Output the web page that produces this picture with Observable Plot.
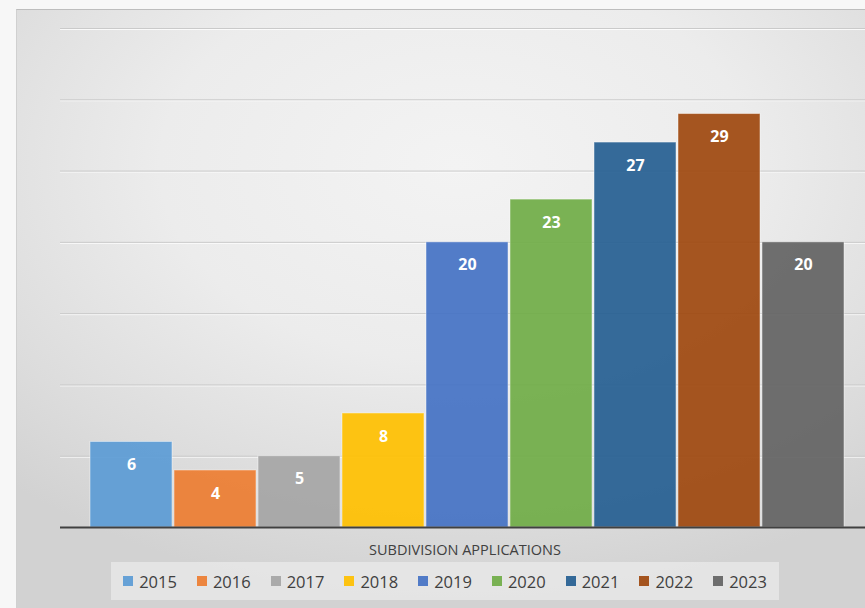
<!DOCTYPE html>
<html>
<head>
<meta charset="utf-8">
<script src="https://cdn.jsdelivr.net/npm/d3@7"></script>
<script src="https://cdn.jsdelivr.net/npm/@observablehq/plot@0.6"></script>
<style>
  html, body { margin: 0; padding: 0; overflow: hidden; width: 865px; height: 608px; background: #f7f7f7; }
  #panel {
    position: absolute; left: 16px; top: 9px; width: 880px; height: 620px;
    border-top: 1px solid #bdbdbd; border-left: 1px solid #d0d0d0;
    background: radial-gradient(ellipse 75% 70% at 50% 25%, #f3f3f3 0%, #ececec 45%, #dcdcdc 80%, #d2d2d2 100%);
  }
  #chart { position: absolute; left: 0; top: 0; }
  #title {
    position: absolute; left: 0; width: 930px; top: 540px; text-align: center;
    font-family: "Open Sans", "Noto Sans", sans-serif; font-size: 14.5px; color: #404040;
  }
  #legend {
    position: absolute; left: 111px; top: 562px; width: 668px; height: 38px;
    background: rgba(232,232,232,0.85);
    display: flex; align-items: center; justify-content: center; gap: 20px;
    font-family: "Open Sans", "Noto Sans", sans-serif; font-size: 16.5px; color: #404040;
  }
  .item { display: flex; align-items: center; gap: 6px; }
  .sw { width: 10px; height: 10px; display: inline-block; }
</style>
</head>
<body>
<div id="panel"></div>
<div id="chart"></div>
<div id="title">SUBDIVISION APPLICATIONS</div>
<div id="legend"></div>
<script>
const years = ["2015","2016","2017","2018","2019","2020","2021","2022","2023"];
const values = [6, 4, 5, 8, 20, 23, 27, 29, 20];
const colors = ["#5B9BD5","#ED7D31","#A5A5A5","#FFC000","#4472C4","#70AD47","#255E91","#9E480E","#636363"];
const gridTicks = [5, 10, 15, 20, 25, 30, 35];

const data = years.map((y, i) => ({year: y, value: values[i]}));

const chart = Plot.plot({
  width: 865,
  height: 540,
  marginLeft: 60,
  marginRight: 0,
  marginTop: 0,
  marginBottom: 13,
  style: {background: "transparent"},
  x: {domain: years, range: [86.5, 847], padding: 0.025, axis: null},
  y: {domain: [0, 35], range: [527, 28], axis: null},
  color: {domain: years, range: colors},
  marks: [
    Plot.ruleY(gridTicks, {stroke: "#ffffff", strokeOpacity: 0.8, dy: 1}),
    Plot.ruleY(gridTicks, {stroke: "#cacaca", strokeWidth: 1}),
    Plot.barY(data, {x: "year", y: "value", fill: "year", fillOpacity: 0.92, stroke: "#ffffff", strokeOpacity: 0.45, strokeWidth: 1}),
    Plot.ruleY([0], {stroke: "#404040", strokeWidth: 2}),
    Plot.text(data, {x: "year", y: "value", text: d => String(d.value), dy: 23, fill: "white", fontWeight: "bold", fontSize: 16, fontFamily: "Open Sans, Noto Sans, sans-serif"})
  ]
});
document.getElementById("chart").appendChild(chart);

const legend = document.getElementById("legend");
years.forEach((y, i) => {
  const it = document.createElement("div");
  it.className = "item";
  const sw = document.createElement("span");
  sw.className = "sw";
  sw.style.background = colors[i];
  sw.style.opacity = 0.92;
  const t = document.createElement("span");
  t.textContent = y;
  it.appendChild(sw); it.appendChild(t);
  legend.appendChild(it);
});
</script>
</body>
</html>
